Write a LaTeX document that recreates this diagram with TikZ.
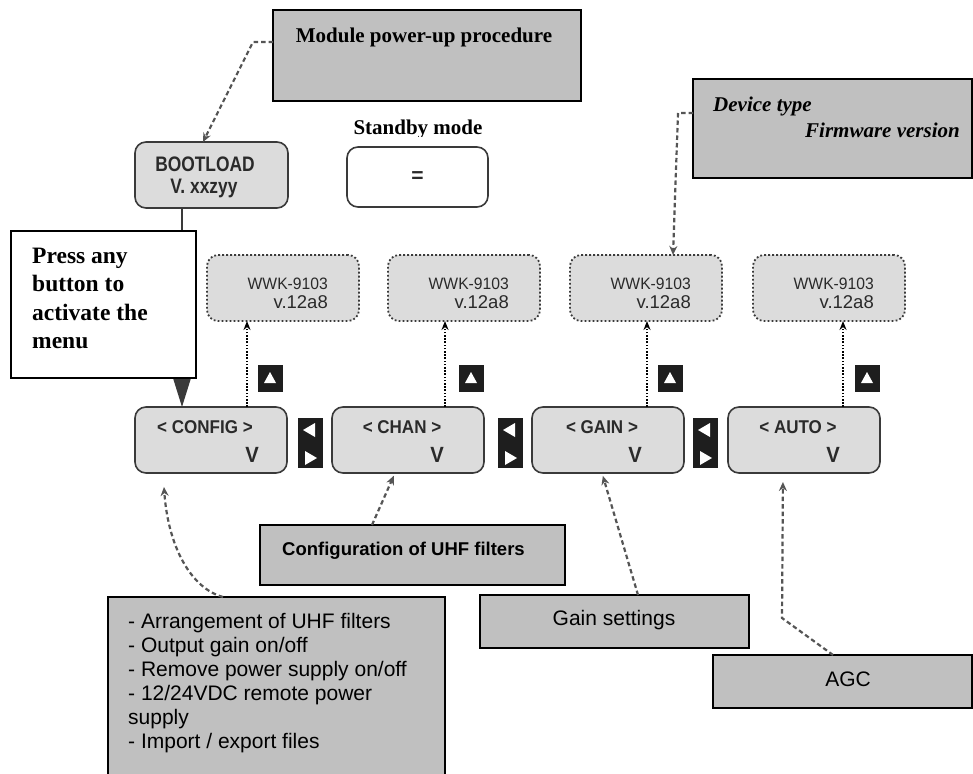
\documentclass[tikz,border=0pt]{standalone}
\usepackage{fontspec}
\setmainfont{Liberation Serif}
\setsansfont{Liberation Sans}
\usetikzlibrary{arrows.meta,calc}
\definecolor{calloutgray}{HTML}{C0C0C0}
\definecolor{lcdfill}{HTML}{DCDCDC}
\definecolor{lcdline}{HTML}{3A3A3A}
\definecolor{lcdtext}{HTML}{2A2A2A}
\definecolor{keyblack}{HTML}{1E1E1E}
\definecolor{leadgray}{HTML}{555555}
\newcommand\fsz[2]{\fontsize{#1}{#2}\selectfont}
\tikzset{
  box/.style={anchor=north west, inner sep=0pt, outer sep=0pt},
  callout/.style={box, draw=black, line width=1.8pt, fill=calloutgray},
  lcdbtn/.style={box, draw=lcdline, line width=1.6pt, fill=lcdfill, rounded corners=11pt, minimum width=152pt, minimum height=66pt},
  lcdinfo/.style={box, draw=lcdline, line width=1.8pt, dash pattern=on 1.8pt off 2.2pt, fill=lcdfill, rounded corners=11pt, minimum width=152pt, minimum height=66pt},
  btntext/.style={font=\sffamily\bfseries\fsz{18.5}{21}, xscale=0.92, text=lcdtext, anchor=base, inner sep=0pt},
  sertext/.style={font=\bfseries\fsz{21}{24}, anchor=base, inner sep=0pt},
  listtext/.style={font=\sffamily\fsz{21}{24}, anchor=base west, inner sep=0pt},
  callarrow/.style={draw=leadgray, line width=2.2pt, dash pattern=on 4.5pt off 3pt, -{Stealth[length=9pt,width=8pt]}},
  dotarrow/.style={draw=black, line width=1.8pt, dash pattern=on 1.6pt off 1.6pt, -{Stealth[length=9pt,width=7pt]}},
  upkey/.pic={\fill[keyblack] (-12.5,-13.5) rectangle (12.5,13.5);
              \fill[white] (-6,5) -- (6,5) -- (0,-6) -- cycle;},
  lrkey/.pic={\fill[keyblack] (-12.5,-25) rectangle (12.5,25);
              \fill[white] (5,-20) -- (5,-6) -- (-7,-13) -- cycle;
              \fill[white] (-5,8) -- (-5,22) -- (7,15) -- cycle;}
}
\begin{document}
\begin{tikzpicture}[x=1pt,y=-1pt]
\useasboundingbox (0,0) rectangle (973,773);
\fill[white] (0,0) rectangle (973,773);

% top callouts
\node[callout, minimum width=308pt, minimum height=91pt] (mod) at (273,10) {};
\node[sertext] (modt) at (424,43) {Module power-up procedure};
\node[callout, minimum width=279pt, minimum height=99pt] (dev) at (693,79) {};
\node[sertext, font=\bfseries\itshape\fsz{21}{24}, anchor=base west] (devt1) at (713,112) {Device type};
\node[sertext, font=\bfseries\itshape\fsz{21}{24}, anchor=base west] (devt2) at (805,137) {Firmware version};

% bootload and standby
\node[lcdbtn, minimum width=153pt] (boot) at (135,142) {};
\node[btntext, font=\sffamily\bfseries\fsz{21}{23}, xscale=0.9] (bootA) at (205,171) {BOOTLOAD};
\node[btntext, font=\sffamily\bfseries\fsz{21}{23}, xscale=0.9] (bootB) at (204,193) {V. xxzyy};
\begin{scope}
\clip (330,100) rectangle (510,136.5);
\node[sertext] (sbt) at (418,134) {Standby mode};
\end{scope}
\node[lcdbtn, fill=white, minimum width=141pt, minimum height=60pt] (sb) at (347,147) {};
\node[font=\sffamily\bfseries\fsz{21}{22}, text=lcdtext, inner sep=0pt] (sbeq) at (sb.center) {=};

% info boxes
\foreach \l [count=\i] in {207,388,570,753} {
  \node[lcdinfo] (w\i) at (\l,255) {};
  \node[font=\sffamily\fsz{16.5}{18}, text=lcdtext, xscale=0.95, anchor=base east, inner sep=0pt] (wt\i) at (\l+121,289) {WWK-9103};
  \node[font=\sffamily\fsz{18.5}{20}, text=lcdtext, anchor=base east, inner sep=0pt] (wv\i) at (\l+121,308) {v.12a8};
}

% menu buttons
\foreach \l/\lab/\v/\nm in {135/{< CONFIG >}/252/cfg, 332/{< CHAN >}/437/chan, 532/{< GAIN >}/635/gain, 728/{< AUTO >}/833/auto} {
  \node[lcdbtn] (\nm) at (\l,407) {};
  \node[btntext] (\nm-t) at (\l+70,433) {\lab};
  \node[btntext, font=\sffamily\bfseries\fsz{22}{24}, xscale=1] (\nm-v) at (\v,462) {V};
}

% keys
\foreach \x in {270,471,670,867} { \pic at (\x,378) {upkey}; }
\foreach \x in {310,510,705} { \pic at (\x,443) {lrkey}; }

% dotted up arrows
\foreach \nm/\dx/\i in {cfg/36/1, chan/37/2, gain/39/3, auto/39/4} {
  \draw[dotarrow] ([xshift=\dx pt]\nm.north) coordinate (up\i) -- (up\i |- w\i.south);
}

% bootload to config, under the press box
\draw[draw=lcdline, line width=1.6pt, -{Triangle[width=17pt,length=28pt]}] ([xshift=-29.5pt]boot.south) coordinate (bl) -- (bl |- cfg.north);
\node[box, draw=black, line width=1.5pt, fill=white, minimum width=185pt, minimum height=147pt] (press) at (11,231) {};
\foreach \t/\y [count=\i] in {{Press any}/263, {button to}/291.5, {activate the}/320, {menu}/348.5} {
  \node[sertext, font=\bfseries\fsz{23.5}{28}, anchor=base west] (press\i) at (32,\y) {\t};
}

% bottom callouts
\node[callout, minimum width=305pt, minimum height=60pt] (uhf) at (260,525) {};
\node[font=\sffamily\bfseries\fsz{18.5}{21}, anchor=base west, inner sep=0pt] (uhft) at (282,555) {Configuration of UHF filters};
\node[callout, minimum width=269pt, minimum height=53pt] (gset) at (480,595) {};
\node[listtext, anchor=base] (gsett) at (614,625) {Gain settings};
\node[callout, minimum width=259pt, minimum height=53pt] (agc) at (713,655) {};
\node[listtext, anchor=base] (agct) at (848,686) {AGC};
\node[callout, minimum width=337pt, minimum height=190pt] (list) at (108,597) {};
\foreach \t/\y [count=\i] in {{- Arrangement of UHF filters}/628, {- Output gain on/off}/652, {- Remove power supply on/off}/676, {- 12/24VDC remote power}/700, {supply}/724, {- Import / export files}/748} {
  \node[listtext] (li\i) at (128,\y) {\t};
}

% callout leaders
\draw[callarrow] ([yshift=13.5pt]mod.west) -- ++(-20,0) -- ([xshift=-8.5pt]boot.north);
\draw[callarrow] ([yshift=15.5pt]dev.west) -- ++(-15,0) -- ([xshift=27pt]w3.north);
\draw[callarrow, shorten >=14pt] ([xshift=-53.5pt]list.north) .. controls +(-33,-9) and +(5,72) .. ([xshift=-48pt]cfg.south);
\draw[callarrow, shorten >=3pt] ([xshift=-40.5pt]uhf.north) -- ([xshift=-13pt]chan.south);
\draw[callarrow, shorten >=3pt] ([xshift=23.5pt]gset.north) -- ([xshift=-6pt]gain.south);
\draw[callarrow, shorten >=9pt] ([xshift=-9.5pt]agc.north) -- ++(-51,-37) -- ([xshift=-21pt]auto.south);
\end{tikzpicture}
\end{document}
